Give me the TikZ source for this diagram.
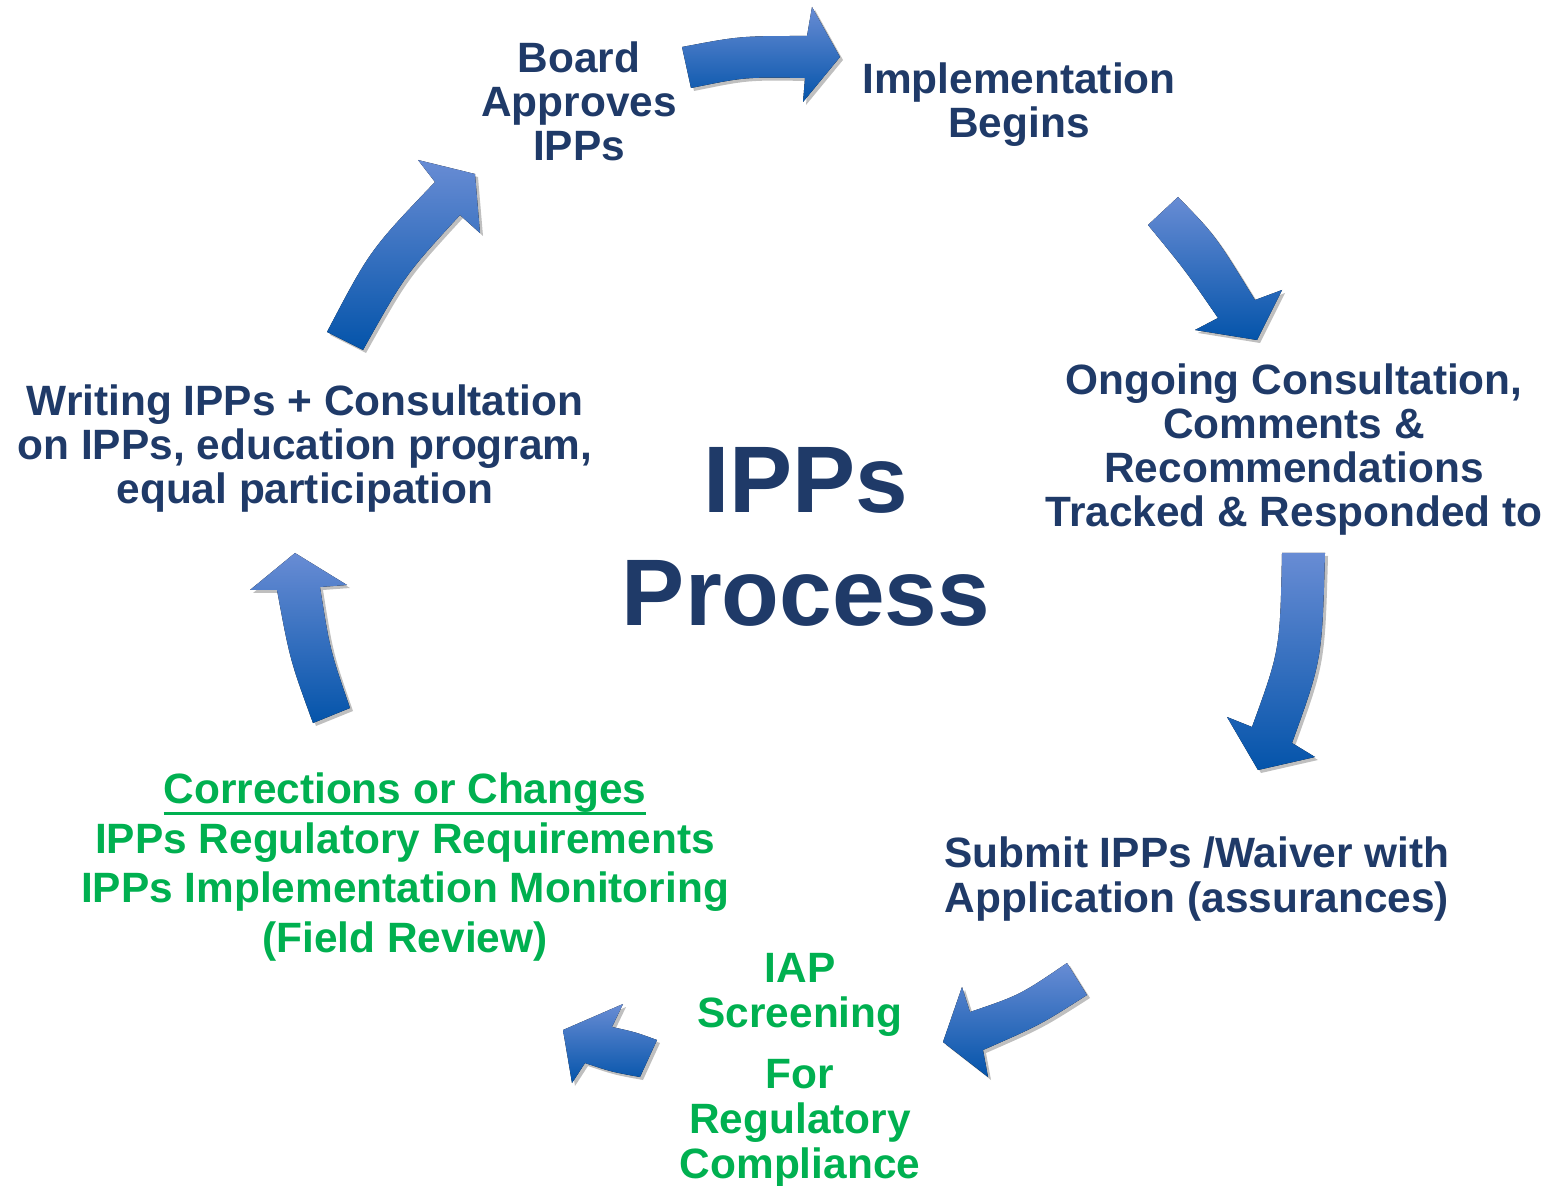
\documentclass[tikz,border=0pt]{standalone}
\usepackage{fontspec}
\setmainfont{Liberation Sans}
\usetikzlibrary{shadows}

\definecolor{navytext}{RGB}{31,58,104}
\definecolor{greentext}{RGB}{0,176,80}
\definecolor{arrowtop}{RGB}{104,140,212}
\definecolor{arrowmid}{RGB}{22,102,196}
\definecolor{arrowbot}{RGB}{4,84,170}

\newcommand{\greenul}[1]{\setbox0\hbox{#1}\rlap{\rule[-5.5pt]{\wd0}{1.5pt}}\box0}

\tikzset{
  steptext/.style={font=\bfseries\fontsize{21.2}{22}\selectfont, text=navytext, align=center, inner sep=0pt},
  greenstep/.style={steptext, text=greentext},
  bigtitle/.style={font=\bfseries\fontsize{47.3}{56.5}\selectfont, text=navytext, align=center, inner sep=0pt},
  blockarrow/.style={top color=arrowtop, middle color=arrowmid, bottom color=arrowbot,
    drop shadow={shadow xshift=1.5pt, shadow yshift=-1.5pt, opacity=0.25, fill=black}}
}

\begin{document}
\begin{tikzpicture}[x=0.5pt, y=-0.5pt]
            \useasboundingbox (0,0) rectangle (1552,1186);
            \node[steptext] (board) at (579,101) {Board\\Approves\\IPPs};
            \node[steptext] (impl) at (1019,105) {Implementation\\Begins};
            \node[steptext] (ongoing) at (1294,450) {Ongoing Consultation,\\Comments \&\\Recommendations\\Tracked \& Responded to};
            \node[steptext, font=\bfseries\fontsize{21.2}{22.5}\selectfont] (submit) at (1197,879) {Submit IPPs /Waiver with\\Application (assurances)};
            \node[greenstep, font=\bfseries\fontsize{21.2}{22.5}\selectfont] (iap) at (800,1070) {IAP\\Screening\\[8pt]For\\Regulatory\\Compliance};
            \node[greenstep, font=\bfseries\fontsize{21.2}{24.75}\selectfont] (corr) at (405,867) {\greenul{Corrections or Changes}\\IPPs Regulatory Requirements\\IPPs Implementation Monitoring\\(Field Review)};
            \node[steptext] (writing) at (305,449) {Writing IPPs + Consultation\\on IPPs, education program,\\equal participation};
            \node[bigtitle] (title) at (806,537) {IPPs\\Process};
            \fill[blockarrow] (682,47) .. controls (740,36) .. (807,36) -- (812,7) -- (840,57) -- (803,102) -- (805,78) .. controls (745,77) .. (691,88) -- cycle;
            \fill[blockarrow] (1178,197) .. controls (1215,235) .. (1255,300) -- (1282,290) -- (1257,340) -- (1195,330) -- (1218,318) .. controls (1185,270) .. (1148,225) -- cycle;
            \fill[blockarrow] (1282,553) -- (1325,553) .. controls (1322,660) .. (1292,743) -- (1315,757) -- (1258,770) -- (1227,717) -- (1252,727) .. controls (1280,650) .. (1282,553) -- cycle;
            \fill[blockarrow] (1067,963) -- (1087,995) .. controls (1040,1025) .. (983,1050) -- (988,1077) -- (943,1042) -- (962,987) -- (970,1012) .. controls (1020,995) .. (1067,963) -- cycle;
            \fill[blockarrow] (657,1040) -- (640,1077) .. controls (612,1072) .. (585,1063) -- (572,1083) -- (563,1030) -- (623,1004) -- (612,1027) .. controls (635,1032) .. (657,1040) -- cycle;
            \fill[blockarrow] (350,708) -- (313,723) .. controls (290,660) .. (277,590) -- (250,590) -- (295,553) -- (347,585) -- (320,587) .. controls (330,650) .. (350,708) -- cycle;
            \fill[blockarrow] (327,332) .. controls (370,250) .. (435,182) -- (418,160) -- (475,174) -- (480,233) -- (460,215) .. controls (405,275) .. (363,350) -- cycle;
\end{tikzpicture}
\end{document}
